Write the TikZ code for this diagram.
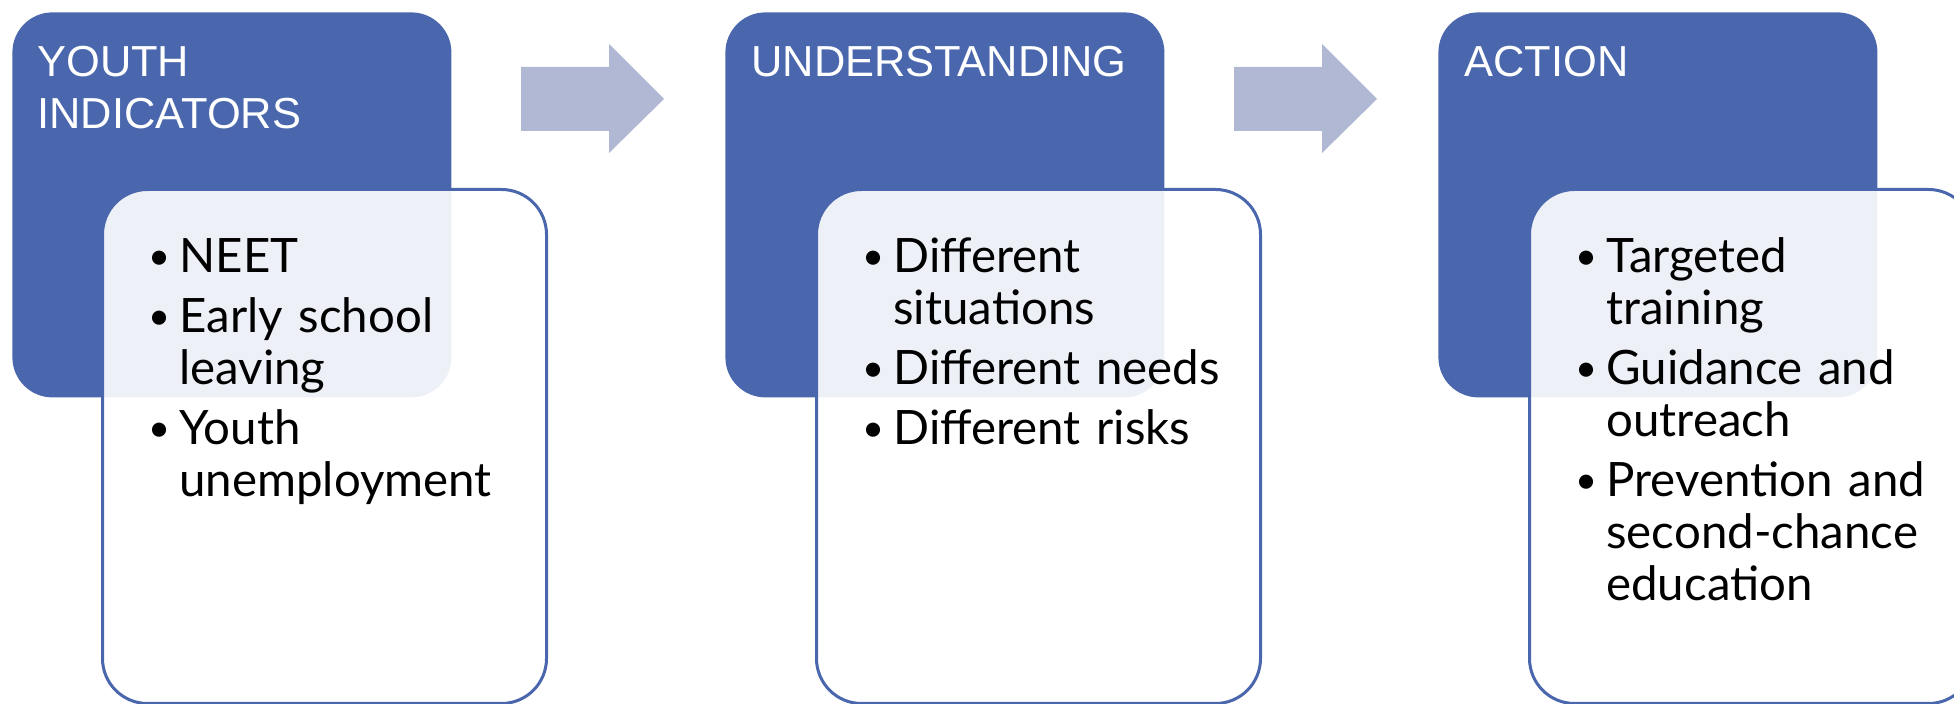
\documentclass[tikz,border=0pt]{standalone}
\usepackage{fontspec}
\setmainfont{Lato}
\newfontfamily\titlefont{Liberation Sans}
\usepackage{tikz}

\definecolor{boxblue}{HTML}{4A67AD}
\definecolor{arrowgray}{HTML}{B0B8D4}

\newcommand{\bul}[1]{\hangindent=14.5pt\hangafter=1\noindent\makebox[14.5pt][l]{\kern-1pt\raisebox{1.5pt}{\fontsize{19}{19}\selectfont\textbullet}}#1\par}

\begin{document}
\begin{tikzpicture}[x=0.5pt,y=-0.5pt,
    headbox/.style={fill=boxblue,rounded corners=20pt,minimum width=219.5pt,minimum height=192.5pt,anchor=north west,inner sep=0pt},
    listbox/.style={draw=boxblue,line width=1.5pt,fill=white,fill opacity=0.9,rounded corners=22.5pt,minimum width=222pt,minimum height=257pt,anchor=north west,inner sep=0pt},
    headtext/.style={anchor=base west,inner sep=0pt,text=white,text width=210pt,font=\titlefont\fontsize{21.7}{26}\selectfont},
    listtext/.style={anchor=base west,inner sep=0pt,text width=195pt,font=\fontsize{23.7}{26}\selectfont}]
        \useasboundingbox (0,0) rectangle (1954,704);
        \clip (0,0) rectangle (1954,704);
        % heads
        \node[headbox] (ind-head) at (12,12) {};
        \node[headbox] (und-head) at (725,12) {};
        \node[headbox] (act-head) at (1438,12) {};
        \node[headtext] (ind-title) at (37,77) {\raggedright YOUTH\newline INDICATORS};
        \node[headtext] (und-title) at (751,77) {\raggedright UNDERSTANDING};
        \node[headtext] (act-title) at (1464,77) {\raggedright ACTION};
        % arrows
        \fill[arrowgray] (521,67)--(609,67)--(609,44)--(664,99)--(609,153)--(609,131)--(521,131)--cycle;
        \fill[arrowgray] (1234,67)--(1322,67)--(1322,44)--(1377,99)--(1322,153)--(1322,131)--(1234,131)--cycle;
        % lists
        \node[listbox] (ind-list) at (101,188) {};
        \node[listbox] (und-list) at (815,188) {};
        \node[listbox] (act-list) at (1528,188) {};
        \node[listtext] (ind-items) at (150,273) {\raggedright\parskip=4pt
            \bul{NEET}\bul{Early school\newline leaving}\bul{Youth\newline unemployment}};
        \node[listtext] (und-items) at (864,273) {\raggedright\parskip=4pt
            \bul{Different\newline situations}\bul{Different needs}\bul{Different risks}};
        \node[listtext] (act-items) at (1577,273) {\raggedright\parskip=4pt
            \bul{Targeted\newline training}\bul{Guidance and\newline outreach}\bul{Prevention and\newline second-chance\newline education}};
      \end{tikzpicture}
\end{document}
